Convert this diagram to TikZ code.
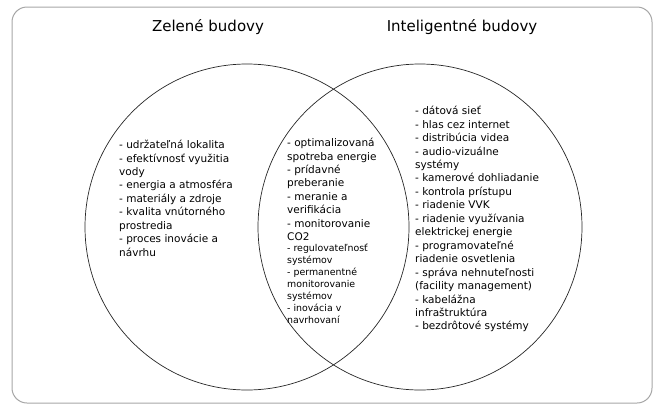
\documentclass[tikz,border=0pt]{standalone}
\usepackage{fontspec}
\setmainfont{DejaVu Sans}
\usetikzlibrary{shapes.geometric,positioning}
\tikzset{
  set/.style={ellipse, draw=black!85, line width=0.7pt, minimum width=324pt, minimum height=326pt, inner sep=0pt},
  title/.style={font=\fontsize{15}{17}\selectfont},
  items/.style={anchor=north west, align=left, inner sep=0pt, font=\fontsize{10.5}{13.45}\selectfont},
  smallitems/.style={items, font=\fontsize{9.4}{12}\selectfont},
}
\begin{document}
\begin{tikzpicture}[x=1pt,y=-1pt]
\useasboundingbox (0,0) rectangle (654,405);
\draw[black!35, line width=1pt, rounded corners=15pt] (12,7) rectangle (652,403);
\node[set] (green) at (247,227){};
\node[set] (smart) at (420,227){};
\node[title] (greentitle) at (208,27){Zelené budovy};
\node[title] (smarttitle) at (462,27){Inteligentné budovy};
\node[items] (greenlist) at (119,140){- udržateľná lokalita\\ - efektívnosť využitia\\vody\\ - energia a atmosféra\\ - materiály a zdroje\\ - kvalita vnútorného\\prostredia\\ - proces inovácie a\\návrhu};
\node[items] (bothlist) at (287,138){- optimalizovaná\\spotreba energie\\ - prídavné\\preberanie\\ - meranie a\\verifikácia\\ - monitorovanie\\CO2};
\node[smallitems] (bothlist2) at ([yshift=-3pt]bothlist.south west){- regulovateľnosť\\systémov\\ - permanentné\\monitorovanie\\systémov\\ - inovácia v\\navrhovaní};
\node[items] (smartlist) at (415,106){- dátová sieť\\ - hlas cez internet\\ - distribúcia videa\\ - audio-vizuálne\\systémy\\ - kamerové dohliadanie\\ - kontrola prístupu\\ - riadenie VVK\\ - riadenie využívania\\elektrickej energie\\ - programovateľné\\riadenie osvetlenia\\ - správa nehnuteľnosti\\(facility management)\\ - kabelážna\\infraštruktúra\\ - bezdrôtové systémy};
\end{tikzpicture}
\end{document}
